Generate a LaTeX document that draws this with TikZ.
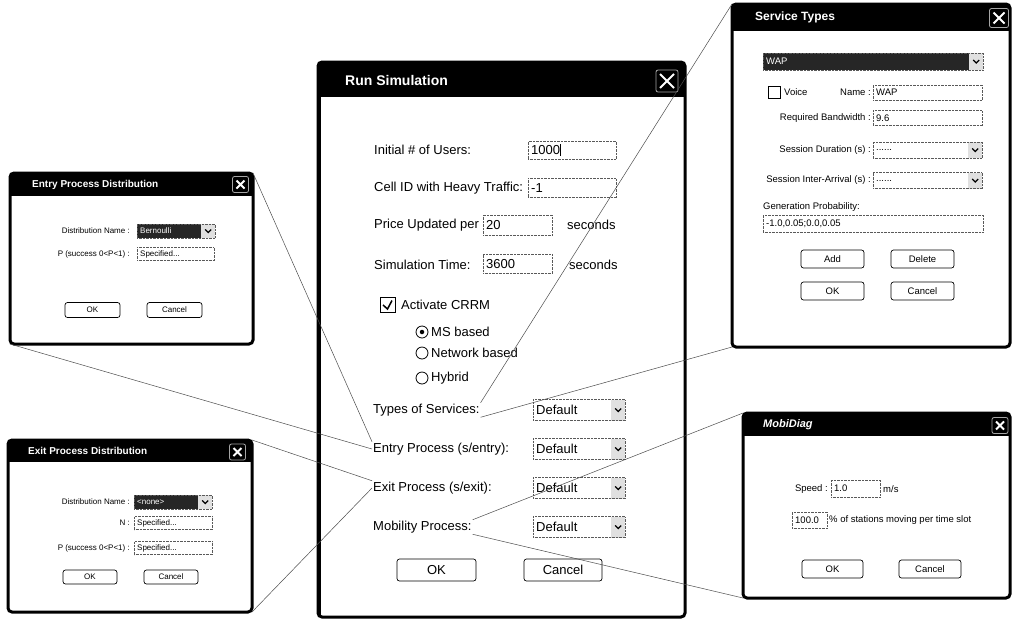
\documentclass[tikz,border=0pt]{standalone}
\usepackage{fontspec}
\setmainfont{Liberation Sans}
\usepackage{tikz}

\begin{document}
\begin{tikzpicture}[x=1pt,y=-1pt,
  win/.style={draw, line width=3pt, fill=white, rounded corners=4pt, anchor=north west, inner sep=0pt, outer sep=0pt},
  ttl/.style={anchor=west, inner sep=0pt, text=white, font=\bfseries\fontsize{#1}{#1}\selectfont},
  xbtn/.style={draw=black!35, line width=0.8pt, fill=black, rounded corners=2pt, minimum size=#1, inner sep=0pt,
    path picture={\draw[white, line width=2pt]
      ([shift={(4pt,-4pt)}]path picture bounding box.north west) -- ([shift={(-4pt,4pt)}]path picture bounding box.south east)
      ([shift={(4pt,4pt)}]path picture bounding box.south west) -- ([shift={(-4pt,-4pt)}]path picture bounding box.north east);}},
  lbl/.style={anchor=west, inner sep=1pt},
  rlbl/.style={anchor=east, inner sep=1pt},
  fld/.style={draw=black!65, densely dotted, anchor=west, text width=#1, inner xsep=3pt, inner ysep=0pt},
  combo/.style={fld=#1,
    path picture={\fill[black!12] ([xshift=-14pt]path picture bounding box.north east) rectangle (path picture bounding box.south east);
      \draw[solid, black, line width=1.3pt] ([shift={(-10pt,1.5pt)}]path picture bounding box.east) -- ++(3pt,-3pt) -- ++(3pt,3pt);}},
  sel/.style={fill=black!85, text=white},
  chk/.style={draw, line width=0.8pt, minimum size=#1, inner sep=0pt},
  tick/.style={path picture={\draw[line width=1.5pt]
      ([shift={(3pt,0pt)}]path picture bounding box.west) -- ([shift={(0pt,3.5pt)}]path picture bounding box.south)
      -- ([shift={(-3pt,-3pt)}]path picture bounding box.north east);}},
  btn/.style={draw, line width=0.7pt, rounded corners=2.5pt, inner sep=0pt},
  leader/.style={black!70, line width=0.5pt}]
\useasboundingbox (0,0) rectangle (1014,619);

% Run Simulation (main window)
\node[win, minimum width=367pt, minimum height=555pt] (main) at (318,62) {};
\draw[line width=2pt] ([xshift=2pt]main.north west) -- ([xshift=2pt]main.south west);
\fill[rounded corners=4pt] (main.north west) rectangle ([yshift=-14pt]main.north east);
\fill ([yshift=-8pt]main.north west) rectangle ([yshift=-35pt]main.north east);
\node[ttl=14] (main-ttl) at (345,80) {Run Simulation};
\node[xbtn=22pt] (main-x) at (667,81) {};
\begin{scope}[font=\fontsize{13}{15}\selectfont]
\foreach \n/\y/\t in {ini/150/{Initial \# of Users:}, cid/188/{Cell ID with Heavy Traffic:},
    upd/225/{Price Updated per}, sim/265/{Simulation Time:}}
  \node[lbl] (\n-lbl) at (373,\y) {\t};
\node[fld=82pt, minimum height=18pt] (ini-box) at (528,150) {1000\rule[-2pt]{0.7pt}{12pt}};
\node[fld=82pt, minimum height=19pt] (cid-box) at (528,188) {-1};
\node[fld=63pt, minimum height=20pt] (upd-box) at (483,225) {20};
\node[fld=63pt, minimum height=19pt] (sim-box) at (483,264) {3600};
\node[lbl] (upd-sec) at (566,225) {seconds};
\node[lbl] (sim-sec) at (568,265) {seconds};
\node[chk=15pt, tick] (crrm-box) at (387.5,305) {};
\node[lbl] (crrm-lbl) at (400,305) {Activate CRRM};
\foreach \n/\y/\t in {ms/332/MS based, net/353/Network based, hyb/378/Hybrid} {
  \node[draw, circle, line width=0.8pt, minimum size=12pt, inner sep=0pt] (\n-rad) at (422,\y) {};
  \node[lbl] (\n-lbl) at (430,\y) {\t};
}
\node[circle, fill, minimum size=4.5pt, inner sep=0pt] (ms-dot) at (ms-rad) {};
\foreach \n/\y/\t in {typ/410/{Types of Services:}, ent/449/{Entry Process (s/entry):},
    ext/488/{Exit Process (s/exit):}, mob/527/{Mobility Process:}} {
  \node[lbl] (\n-lbl) at (372,\y) {\t};
  \node[combo=86pt, minimum height=21pt] (\n-box) at (533,\y) {Default};
}
\node[btn, minimum width=79pt, minimum height=22pt] (main-ok) at (436.5,570) {OK};
\node[btn, minimum width=78pt, minimum height=22pt] (main-cancel) at (563,570) {Cancel};
\end{scope}

% Entry Process Distribution
\node[win, minimum width=243pt, minimum height=171pt] (entry) at (10,173) {};
\fill[rounded corners=4pt] (entry.north west) rectangle ([yshift=-12pt]entry.north east);
\fill ([yshift=-8pt]entry.north west) rectangle ([yshift=-23pt]entry.north east);
\node[ttl=10] (entry-ttl) at (32,185) {Entry Process Distribution};
\node[xbtn=16pt] (entry-x) at (240.5,184.5) {};
\begin{scope}[font=\fontsize{8}{9}\selectfont]
\node[rlbl] (entry-dist) at (131,231) {Distribution Name :};
\node[combo=72pt, sel, minimum height=14pt] (entry-distbox) at (137,231) {Bernoulli};
\node[rlbl] (entry-p) at (131,254) {P (success 0<P<1) :};
\node[fld=71pt, minimum height=13pt] (entry-pbox) at (137,254) {Specified...};
\node[btn, minimum width=55pt, minimum height=15pt] (entry-ok) at (92.5,310) {OK};
\node[btn, minimum width=55pt, minimum height=15pt] (entry-cancel) at (174.5,310) {Cancel};
\end{scope}

% Exit Process Distribution
\node[win, minimum width=244pt, minimum height=172pt] (exit) at (8,440) {};
\fill[rounded corners=4pt] (exit.north west) rectangle ([yshift=-12pt]exit.north east);
\fill ([yshift=-8pt]exit.north west) rectangle ([yshift=-22pt]exit.north east);
\node[ttl=10] (exit-ttl) at (28,451) {Exit Process Distribution};
\node[xbtn=16pt] (exit-x) at (237.5,452) {};
\begin{scope}[font=\fontsize{8}{9}\selectfont]
\node[rlbl] (exit-dist) at (131,502) {Distribution Name :};
\node[combo=72pt, sel, minimum height=14pt] (exit-distbox) at (134,502) {<none>};
\node[rlbl] (exit-n) at (131,523) {N :};
\node[fld=72pt, minimum height=13pt] (exit-nbox) at (134,523) {Specified...};
\node[rlbl] (exit-p) at (131,548) {P (success 0<P<1) :};
\node[fld=72pt, minimum height=13pt] (exit-pbox) at (134,548) {Specified...};
\node[btn, minimum width=54pt, minimum height=14pt] (exit-ok) at (90,577) {OK};
\node[btn, minimum width=54pt, minimum height=14pt] (exit-cancel) at (171,577) {Cancel};
\end{scope}

% Service Types
\node[win, minimum width=278pt, minimum height=343pt] (serv) at (732,4) {};
\fill[rounded corners=4pt] (serv.north west) rectangle ([yshift=-12pt]serv.north east);
\fill ([yshift=-8pt]serv.north west) rectangle ([yshift=-27pt]serv.north east);
\node[ttl=12] (serv-ttl) at (755,17) {Service Types};
\node[xbtn=19pt] (serv-x) at (999,18) {};
\begin{scope}[font=\fontsize{9.5}{11}\selectfont]
\node[combo=214pt, sel, minimum height=17pt] (serv-list) at (763,61.5) {WAP};
\node[chk=12pt] (voice-box) at (774,92) {};
\node[lbl] (voice-lbl) at (783,92) {Voice};
\foreach \n/\y/\t in {name/92/{Name :}, bw/118/{Required Bandwidth :},
    dur/150/{Session Duration (s) :}, arr/180.5/{Session Inter-Arrival (s) :}}
  \node[rlbl] (\n-lbl) at (872,\y) {\t};
\node[fld=103pt, minimum height=15pt] (name-box) at (873,92.5) {WAP};
\node[fld=103pt, minimum height=15pt] (bw-box) at (873,118) {9.6};
\node[combo=103pt, minimum height=16pt] (dur-box) at (873,150) {......};
\node[combo=103pt, minimum height=16pt] (arr-box) at (873,180.5) {......};
\node[lbl] (gen-lbl) at (762,207) {Generation Probability:};
\node[fld=214pt, minimum height=17pt] (gen-box) at (763,223.5) {-1.0,0.05;0.0,0.05};
\node[btn, minimum width=63pt, minimum height=18pt] (serv-add) at (832.5,259) {Add};
\node[btn, minimum width=63pt, minimum height=18pt] (serv-del) at (922.5,259) {Delete};
\node[btn, minimum width=63pt, minimum height=18pt] (serv-ok) at (832.5,291) {OK};
\node[btn, minimum width=63pt, minimum height=18pt] (serv-cancel) at (922.5,291) {Cancel};
\end{scope}

% MobiDiag
\node[win, minimum width=267pt, minimum height=185pt] (mobi) at (743,413) {};
\fill[rounded corners=4pt] (mobi.north west) rectangle ([yshift=-12pt]mobi.north east);
\fill ([yshift=-8pt]mobi.north west) rectangle ([yshift=-23pt]mobi.north east);
\node[ttl=11] (mobi-ttl) at (763,425) {\itshape MobiDiag};
\node[xbtn=16pt] (mobi-x) at (1000,425.5) {};
\begin{scope}[font=\fontsize{9.5}{11}\selectfont]
\node[rlbl] (speed-lbl) at (829,489) {Speed :};
\node[fld=43pt, minimum height=17pt] (speed-box) at (831,488.5) {1.0};
\node[lbl] (speed-unit) at (882,489) {m/s};
\node[fld=29pt, minimum height=16pt] (move-box) at (792,520) {100.0};
\node[lbl] (move-lbl) at (828,520) {\% of stations moving per time slot};
\node[btn, minimum width=61pt, minimum height=18pt] (mobi-ok) at (832.5,569) {OK};
\node[btn, minimum width=62pt, minimum height=18pt] (mobi-cancel) at (930,569) {Cancel};
\end{scope}

% leader lines
\draw[leader] (entry.north east) -- (ent-lbl.north west);
\draw[leader] (entry.south west) -- (ent-lbl.west);
\draw[leader] (exit.north east) -- (ext-lbl.north west);
\draw[leader] (exit.south east) -- (ext-lbl.west);
\draw[leader] (serv.north west) -- (typ-lbl.north east);
\draw[leader] (serv.south west) -- (typ-lbl.south east);
\draw[leader] (mobi.north west) -- (mob-lbl.north east);
\draw[leader] (mobi.south west) -- (mob-lbl.south east);
\end{tikzpicture}
\end{document}
